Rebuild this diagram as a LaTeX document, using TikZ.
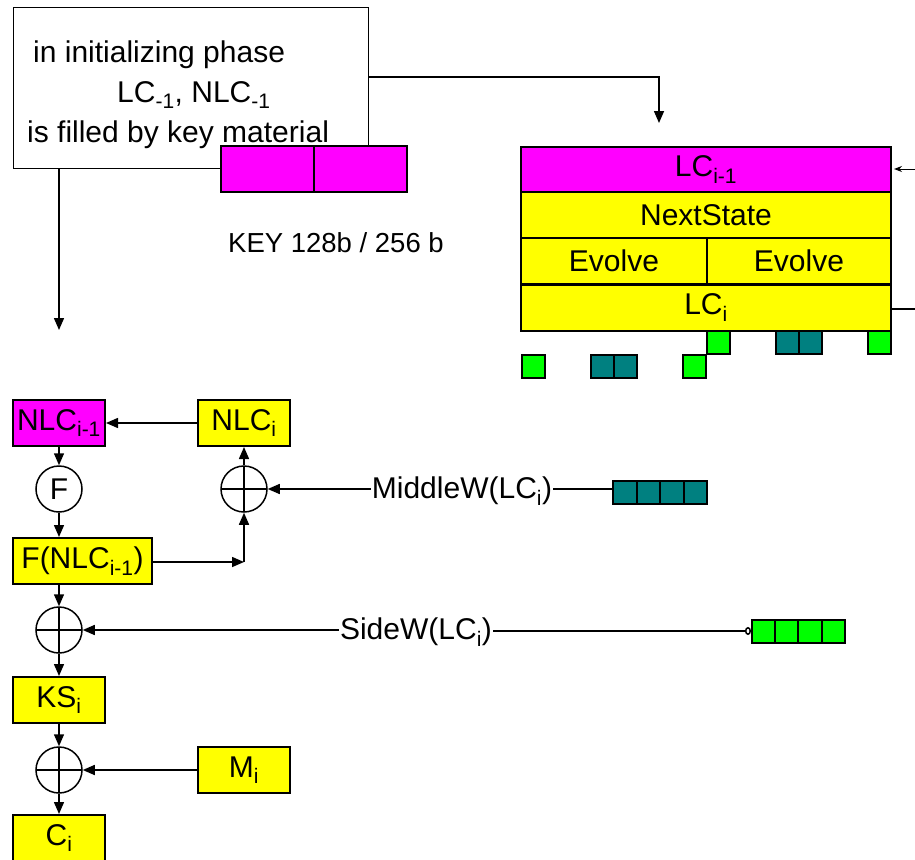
\documentclass[tikz,border=0pt]{standalone}
\usepackage{fontspec}
\setmainfont{Liberation Sans}
\usetikzlibrary{arrows.meta}
\definecolor{keymag}{RGB}{255,0,255}
\definecolor{regyel}{RGB}{255,255,0}
\definecolor{midteal}{RGB}{0,128,128}
\definecolor{sidegrn}{RGB}{0,255,0}
\begin{document}
\begin{tikzpicture}[x=1pt,y=-1pt,font=\fontsize{30}{40}\selectfont,
  cell/.style={draw,line width=2pt,minimum width=#1,minimum height=46pt,inner sep=0pt},
  cell/.default=92pt,
  sq/.style={draw,line width=2pt,minimum size=23pt,inner sep=0pt},
  xor/.style={draw,circle,line width=1.5pt,minimum size=46pt,inner sep=0pt,
    path picture={\draw[line width=1.5pt] (path picture bounding box.north) -- (path picture bounding box.south)
      (path picture bounding box.west) -- (path picture bounding box.east);}},
  arr/.style={line width=1.5pt,-{Triangle[length=12pt,width=10pt]}},
  lbl/.style={inner sep=1pt}]
\useasboundingbox (0,0) rectangle (915,859);
% init phase and key
\node[draw,line width=1pt,minimum width=355pt,minimum height=160pt] (init) at (190.5,88) {};
\node[anchor=west,align=left,inner sep=0pt] (inittext) at (27,95)
  {\hspace{6pt}in initializing phase\\\hspace{90pt}LC\textsubscript{-1}, NLC\textsubscript{-1}\\is filled by key material};
\node[cell=93pt,fill=keymag] (keya) at (267.5,169) {};
\node[cell=93pt,fill=keymag] (keyb) at (360,169) {};
\node[font=\fontsize{27.5}{33}\selectfont] (keylbl) at (336,243) {KEY 128b / 256 b};
% linear part
\node[cell=370pt,fill=keymag] (lcprev) at (706,169.5) {LC\textsubscript{i-1}};
\node[cell=370pt,fill=regyel] (next) at (706,215) {NextState};
\node[cell=186pt,fill=regyel] (evola) at (614,261) {Evolve};
\node[cell=184pt,fill=regyel] (evolb) at (799,261) {Evolve};
\node[cell=370pt,fill=regyel] (lci) at (706,307.5) {LC\textsubscript{i}};
\node[sq,fill=sidegrn] (ga) at (718,342) {};
\node[sq,fill=midteal] (ta) at (787.5,342) {};
\node[sq,fill=midteal] (tb) at (810.5,342) {};
\node[sq,fill=sidegrn] (gb) at (879.5,342) {};
\node[sq,fill=sidegrn] (gc) at (533,366) {};
\node[sq,fill=midteal] (tc) at (602.5,366) {};
\node[sq,fill=midteal] (td) at (625.5,366) {};
\node[sq,fill=sidegrn] (gd) at (694.5,366) {};
\coordinate (lcin) at (659,123);
\coordinate (fbin) at (915,169);
\coordinate (lcout) at (915,309);
\draw[arr] ([yshift=11pt]init.east) -| (lcin);
\draw[line width=1pt,-{Stealth[length=8pt,width=6pt]},shorten >=2pt] (fbin) -- (lcprev.east |- fbin);
\draw[line width=1.5pt] (lci.east |- lcout) -- (lcout);
% non linear part
\coordinate (nlcin) at (59,330);
\draw[arr] (init.south -| nlcin) -- (nlcin);
\node[cell,fill=keymag] (nlcprev) at (59,423) {NLC\textsubscript{i-1}};
\node[cell,fill=regyel] (nlci) at (244,423) {NLC\textsubscript{i}};
\node[draw,circle,line width=1.5pt,minimum size=46pt,inner sep=0pt] (fn) at (59,489) {F};
\node[xor] (xora) at (244,489) {};
\node[cell=139pt,fill=regyel] (fnlc) at (82.5,561) {F(NLC\textsubscript{i-1})};
\coordinate (fcorner) at (244,562);
\node[xor] (xorb) at (59,630) {};
\node[cell,fill=regyel] (ks) at (59,700) {KS\textsubscript{i}};
\node[xor] (xorc) at (59,770) {};
\node[cell,fill=regyel] (mi) at (244,770) {M\textsubscript{i}};
\node[cell,fill=regyel] (ci) at (59,838) {C\textsubscript{i}};
\node[lbl] (midlbl) at (462,491) {MiddleW(LC\textsubscript{i})};
\node[lbl] (sidelbl) at (416,632) {SideW(LC\textsubscript{i})};
\foreach \k/\x in {1/624.75,2/648.25,3/671.75,4/695.25}
  \node[sq,minimum width=23.5pt,fill=midteal] (mw\k) at (\x,492.5) {};
\foreach \k/\x in {1/763.6,2/786.9,3/810.1,4/833.4}
  \node[sq,minimum width=23.25pt,fill=sidegrn] (sw\k) at (\x,631) {};
\draw[arr] (nlci) -- (nlcprev);
\draw[arr] (nlcprev) -- (fn);
\draw[arr] (fn) -- (fn |- fnlc.north);
\draw[arr] (fnlc.east |- fcorner) -- (fcorner);
\draw[arr] (fcorner) -- (xora.south);
\draw[arr] (xora) -- (nlci);
\draw[arr] (midlbl.west |- xora) -- (xora);
\draw[line width=1.5pt] (midlbl.east |- xora) -- (mw1.west |- xora);
\draw[arr] (fnlc.south -| xorb) -- (xorb);
\draw[arr] (sidelbl.west |- xorb) -- (xorb);
\draw[line width=1.5pt,-{Circle[open,length=6pt,width=8pt]}] (sidelbl.east |- sw1.west) -- (sw1.west);
\draw[arr] (xorb) -- (ks);
\draw[arr] (ks) -- (xorc);
\draw[arr] (mi) -- (xorc);
\draw[arr] (xorc) -- (ci);
\end{tikzpicture}
\end{document}
